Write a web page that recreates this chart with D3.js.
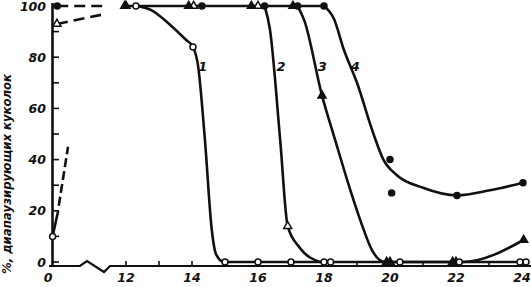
<!DOCTYPE html>
<html>
<head>
<meta charset="utf-8">
<script src="https://cdn.jsdelivr.net/npm/d3@7"></script>
<style>
  body { margin: 0; background: #fff; }
  text { font-family: "DejaVu Sans", sans-serif; font-style: italic; font-weight: bold; fill: #111; }
</style>
</head>
<body>
<svg id="chart" width="531" height="287"></svg>
<script>
// x tick values (days), y tick values (%)
var xMajor = [12, 14, 16, 18, 20, 22, 24];
var xMinor = [13, 15, 17, 19, 21, 23];
var yMajor = [0, 20, 40, 60, 80, 100];
var yMinor = [10, 30, 50, 70, 90];

// plateau shared by all curves
var plateau = [[11.7, 100], [18, 100]];

// drawn curves
var curve1 = [[12.3, 100], [12.75, 98.5], [13.35, 92.5], [13.8, 87], [14.03, 84], [14.18, 77], [14.39, 48], [14.6, 12.5], [14.73, 3], [14.97, 0], [24.1, 0]];
var curve2 = [[16.2, 100], [16.36, 91], [16.67, 48], [16.9, 14], [17.27, 5.5], [17.88, 0]];
var curve3 = [[17.2, 100], [17.4, 94.5], [17.94, 65], [18.33, 48], [18.8, 28], [19.15, 14.5], [19.45, 4.7], [19.85, 0], [22.2, 0], [24.05, 8.6]];
var curve4 = [[18, 100], [18.3, 95], [18.6, 83], [19.0, 70], [19.5, 50], [19.8, 40], [20.2, 34], [21, 29], [22.03, 26], [23.03, 28], [24.03, 31]];

// early part (left of the axis break)
var early1Solid = [[0.1, 10], [1, 20]];
var early1Dash = [[1.1, 22], [2.6, 45]];
var early2Dash = [[0.8, 93], [8.9, 97]];
var early4Dash = [[0.85, 100], [8.9, 100]];

// markers
var openCircles = [[0.1, 10], [12.3, 100], [14.03, 84], [15, 0], [16, 0], [17, 0], [18, 0], [18.2, 0], [20.3, 0], [22.1, 0], [23.94, 0], [24.12, 0]];
var openTriangles = [[0.8, 93], [12.0, 100], [14.05, 100], [16.0, 100], [16.9, 14]];
var filledTriangles = [[11.8, 100], [13.9, 100], [15.8, 100], [17.06, 100], [17.94, 65], [19.9, 0], [20.0, 0], [21.9, 0], [22.0, 0], [24.05, 8.6]];
var filledCircles = [[0.85, 100], [14.3, 100], [16.2, 100], [17.2, 100], [18, 100], [20, 40], [20.05, 27], [22.03, 26], [24.03, 31]];

var curveLabels = [["1", 14.33], ["2", 16.7], ["3", 17.95], ["4", 18.95]];
var yTitle = "%, диапаузирующих куколок";

var svg = d3.select("#chart");

// broken x scale: 0..12 squeezed, 12..24 normal
var x = d3.scaleLinear().domain([0, 12, 24]).range([52, 126, 522]);
var y = d3.scaleLinear().domain([0, 100]).range([262, 6]);
var axisY = 266;

var lineGen = d3.line()
  .x(function(d) { return x(d[0]); })
  .y(function(d) { return y(d[1]); });
var smooth = d3.line()
  .x(function(d) { return x(d[0]); })
  .y(function(d) { return y(d[1]); })
  .curve(d3.curveMonotoneX);

// y axis
svg.append("line")
  .attr("x1", 52.5).attr("x2", 52.5)
  .attr("y1", axisY + 1).attr("y2", 3)
  .attr("stroke", "#111").attr("stroke-width", 2.6);

svg.selectAll(".ytick")
  .data(yMajor.concat(yMinor))
  .enter().append("line")
  .attr("x1", 52).attr("x2", 59)
  .attr("y1", function(d) { return y(d); })
  .attr("y2", function(d) { return y(d); })
  .attr("stroke", "#111").attr("stroke-width", 1.6);

svg.selectAll(".ylab")
  .data(yMajor)
  .enter().append("text")
  .attr("x", 46)
  .attr("y", function(d) { return y(d); })
  .attr("dy", "0.36em")
  .attr("text-anchor", "end")
  .attr("font-size", 12.5)
  .text(function(d) { return d; });

// x axis with a break
var xAxisPath = d3.path();
xAxisPath.moveTo(49, axisY);
xAxisPath.lineTo(80, axisY);
xAxisPath.lineTo(87, axisY - 5);
xAxisPath.lineTo(104, axisY + 6);
xAxisPath.lineTo(110, axisY);
xAxisPath.lineTo(531, axisY);
svg.append("path")
  .attr("d", xAxisPath.toString())
  .attr("fill", "none")
  .attr("stroke", "#111").attr("stroke-width", 2.2);

svg.selectAll(".xtick")
  .data(xMajor.concat(xMinor))
  .enter().append("line")
  .attr("x1", function(d) { return x(d); })
  .attr("x2", function(d) { return x(d); })
  .attr("y1", axisY).attr("y2", axisY - 5)
  .attr("stroke", "#111").attr("stroke-width", 1.6);

svg.selectAll(".xlab")
  .data([0].concat(xMajor))
  .enter().append("text")
  .attr("x", function(d) { return d === 0 ? x(d) - 4 : x(d); })
  .attr("y", 282)
  .attr("text-anchor", "middle")
  .attr("font-size", 12.5)
  .text(function(d) { return d; });

// y title
svg.append("text")
  .attr("transform", "translate(11,174) rotate(-90)")
  .attr("text-anchor", "middle")
  .attr("font-size", 12.5)
  .attr("textLength", 200)
  .attr("lengthAdjust", "spacingAndGlyphs")
  .text(yTitle);

// lines
function drawLine(data, gen, dash) {
  svg.append("path")
    .attr("d", gen(data))
    .attr("fill", "none")
    .attr("stroke", "#111")
    .attr("stroke-width", 2.6)
    .attr("stroke-linejoin", "round")
    .attr("stroke-dasharray", dash || null);
}
drawLine(plateau, lineGen);
drawLine(curve1, smooth);
drawLine(curve2, smooth);
drawLine(curve3, smooth);
drawLine(curve4, smooth);
drawLine(early1Solid, lineGen);
drawLine(early1Dash, lineGen, "9,4");
drawLine(early2Dash, lineGen, "11,6");
drawLine(early4Dash, lineGen, "11,6");

// markers
var tri = d3.symbol().type(d3.symbolTriangle).size(28);
var circ = d3.symbol().type(d3.symbolCircle).size(28);

function drawMarks(data, sym, filled) {
  svg.selectAll(null)
    .data(data)
    .enter().append("path")
    .attr("d", sym)
    .attr("transform", function(d) { return "translate(" + x(d[0]) + "," + y(d[1]) + ")"; })
    .attr("fill", filled ? "#111" : "#fff")
    .attr("stroke", "#111")
    .attr("stroke-width", 1.5);
}
drawMarks(openTriangles, tri, false);
drawMarks(filledTriangles, tri, true);
drawMarks(filledCircles, circ, true);
drawMarks(openCircles, circ, false);

// curve numbers
svg.selectAll(".clab")
  .data(curveLabels)
  .enter().append("text")
  .attr("x", function(d) { return x(d[1]); })
  .attr("y", 71)
  .attr("text-anchor", "middle")
  .attr("font-size", 13)
  .text(function(d) { return d[0]; });
</script>
</body>
</html>
